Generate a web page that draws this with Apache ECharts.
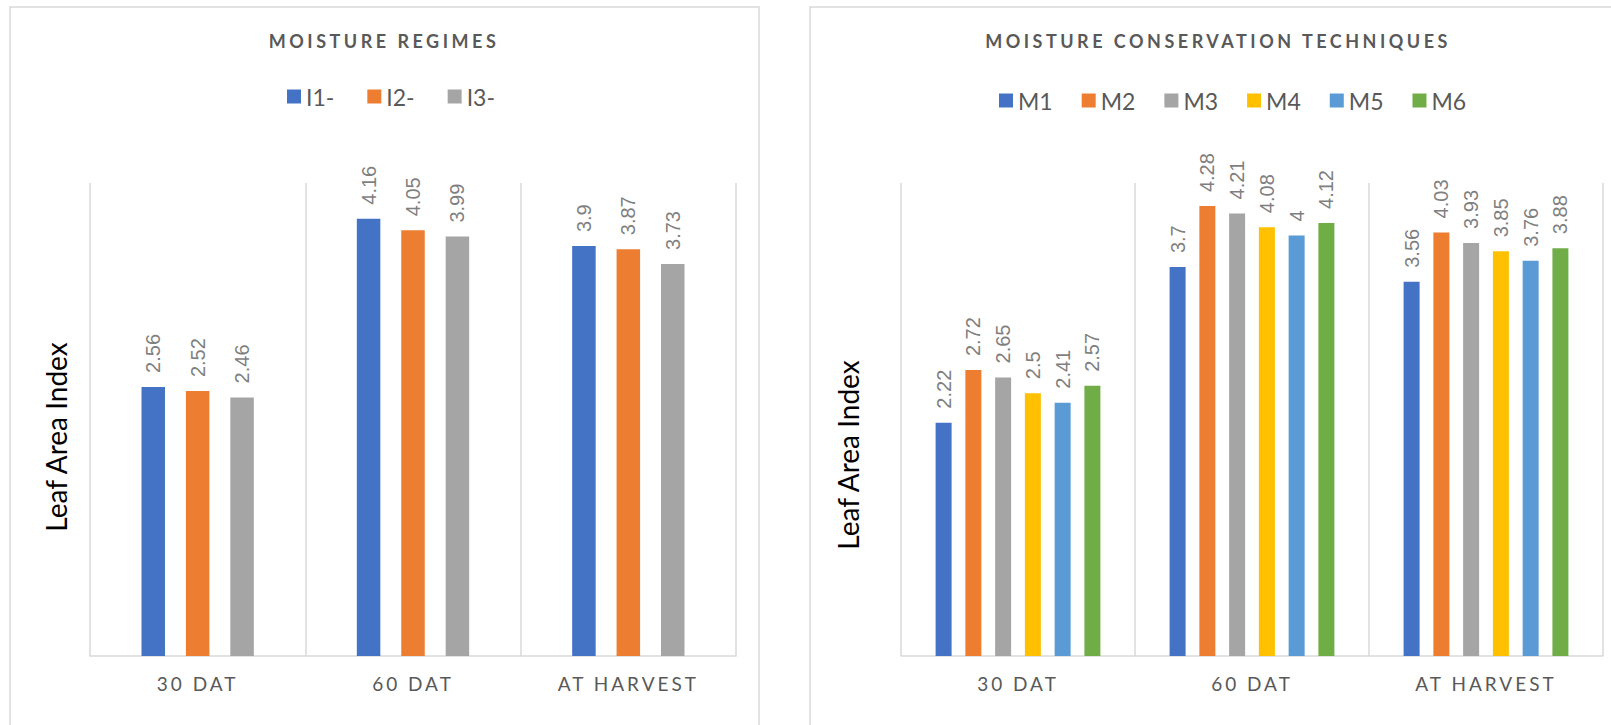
<!DOCTYPE html>
<html>
<head>
<meta charset="utf-8">
<title>Leaf Area Index</title>
<script src="https://cdn.jsdelivr.net/npm/echarts@6/dist/echarts.min.js"></script>
<style>
  html, body { margin: 0; padding: 0; background: #ffffff; }
  #chart { width: 1611px; height: 725px; }
</style>
</head>
<body>
<div id="chart"></div>
<script>
// Growth stages on the category axis
const stages = ['30 DAT', '60 DAT', 'AT HARVEST'];

// Moisture regimes (left panel)
const regimeNames = ['I1-', 'I2-', 'I3-'];
const regimeI1 = [2.56, 4.16, 3.9];
const regimeI2 = [2.52, 4.05, 3.87];
const regimeI3 = [2.46, 3.99, 3.73];

// Moisture conservation techniques (right panel)
const techniqueNames = ['M1', 'M2', 'M3', 'M4', 'M5', 'M6'];
const techM1 = [2.22, 3.7, 3.56];
const techM2 = [2.72, 4.28, 4.03];
const techM3 = [2.65, 4.21, 3.93];
const techM4 = [2.5, 4.08, 3.85];
const techM5 = [2.41, 4, 3.76];
const techM6 = [2.57, 4.12, 3.88];

const valueMin = 0;
const valueMax = 4.5;

const leftTitle = 'MOISTURE REGIMES';
const rightTitle = 'MOISTURE CONSERVATION TECHNIQUES';
const valueAxisTitle = 'Leaf Area Index';

const palette = ['#4472C4', '#ED7D31', '#A5A5A5', '#FFC000', '#5B9BD5', '#70AD47'];
const gridLine = '#d9d9d9';
const darkText = '#595959';

const regimeValues = [regimeI1, regimeI2, regimeI3];
const techValues = [techM1, techM2, techM3, techM4, techM5, techM6];

function valueLabel() {
  return {
    show: true,
    position: 'top',
    rotate: 90,
    align: 'left',
    verticalAlign: 'middle',
    distance: 14,
    color: '#7f7f7f',
    fontFamily: 'Liberation Sans, Arial, sans-serif',
    fontSize: 20
  };
}

function categoryAxis(gridIndex) {
  return {
    type: 'category',
    gridIndex: gridIndex,
    data: stages,
    axisLine: { show: true, lineStyle: { color: gridLine, width: 1.5 } },
    axisTick: { show: false },
    splitLine: { show: true, lineStyle: { color: gridLine, width: 1.5 } },
    axisLabel: {
      color: darkText,
      fontFamily: 'Lato, sans-serif',
      fontSize: 19,
      margin: 18
    }
  };
}

function valueAxis(gridIndex) {
  return {
    type: 'value',
    gridIndex: gridIndex,
    min: valueMin,
    max: valueMax,
    axisLine: { show: false },
    axisTick: { show: false },
    axisLabel: { show: false },
    splitLine: { show: false }
  };
}

const series = [];
regimeNames.forEach(function (name, i) {
  series.push({
    name: name,
    type: 'bar',
    xAxisIndex: 0,
    yAxisIndex: 0,
    data: regimeValues[i],
    barWidth: 23.5,
    barGap: '89%',
    itemStyle: { color: palette[i] },
    label: valueLabel()
  });
});
techniqueNames.forEach(function (name, i) {
  series.push({
    name: name,
    type: 'bar',
    xAxisIndex: 1,
    yAxisIndex: 1,
    data: techValues[i],
    barWidth: 16,
    barGap: '86%',
    itemStyle: { color: palette[i] },
    label: valueLabel()
  });
});

const titleFont = { fill: darkText, fontFamily: 'Lato, sans-serif', fontWeight: 'bold', fontSize: 18, align: 'center', verticalAlign: 'middle' };
const axisTitleFont = { fill: '#000000', fontFamily: 'Lato, sans-serif', fontSize: 28, align: 'center', verticalAlign: 'middle' };

const legendText = { color: darkText, fontFamily: 'Lato, sans-serif', fontSize: 23 };

const option = {
  animation: false,
  backgroundColor: '#ffffff',
  color: palette,
  grid: [
    { left: 90, top: 183, width: 646, height: 473 },
    { left: 901, top: 183, width: 702, height: 473 }
  ],
  xAxis: [categoryAxis(0), categoryAxis(1)],
  yAxis: [valueAxis(0), valueAxis(1)],
  legend: [
    {
      data: regimeNames,
      left: 287, top: 85, padding: 0,
      icon: 'rect', itemWidth: 14, itemHeight: 14, itemGap: 33,
      textStyle: legendText,
      selectedMode: false
    },
    {
      data: techniqueNames,
      left: 999, top: 89, padding: 0,
      icon: 'rect', itemWidth: 14, itemHeight: 14, itemGap: 29,
      textStyle: legendText,
      selectedMode: false
    }
  ],
  graphic: [
    { type: 'rect', silent: true, shape: { x: 10, y: 7, width: 749, height: 740 },
      style: { fill: 'none', stroke: gridLine, lineWidth: 1.5 } },
    { type: 'rect', silent: true, shape: { x: 810, y: 7, width: 840, height: 740 },
      style: { fill: 'none', stroke: gridLine, lineWidth: 1.5 } },
    { type: 'text', silent: true, x: 384, y: 41, style: Object.assign({ text: leftTitle }, titleFont) },
    { type: 'text', silent: true, x: 1218, y: 41, style: Object.assign({ text: rightTitle }, titleFont) },
    { type: 'text', silent: true, x: 56, y: 437, rotation: Math.PI / 2,
      style: Object.assign({ text: valueAxisTitle }, axisTitleFont) },
    { type: 'text', silent: true, x: 848, y: 455, rotation: Math.PI / 2,
      style: Object.assign({ text: valueAxisTitle }, axisTitleFont) }
  ],
  series: series
};

const chart = echarts.init(document.getElementById('chart'), null, { renderer: 'svg' });
chart.setOption(option);

// Titles and stage names are drawn with wide tracking
const tracking = {};
tracking[leftTitle] = '3.5';
tracking[rightTitle] = '3.5';
stages.forEach(function (s) { tracking[s] = '3'; });
function applyTracking() {
  document.querySelectorAll('#chart text').forEach(function (t) {
    const spacing = tracking[t.textContent];
    if (spacing) {
      t.setAttribute('letter-spacing', spacing);
    }
  });
}
applyTracking();
chart.on('finished', applyTracking);
</script>
</body>
</html>
